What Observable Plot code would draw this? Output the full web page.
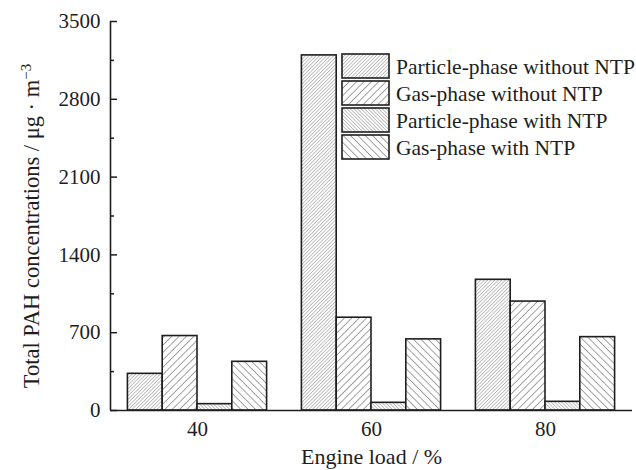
<!DOCTYPE html>
<html>
<head>
<meta charset="utf-8">
<script src="https://cdn.jsdelivr.net/npm/d3@7"></script>
<script src="https://cdn.jsdelivr.net/npm/@observablehq/plot@0.6"></script>
<style>
  body { margin: 0; background: #fff; }
  #chart { position: relative; width: 636px; height: 470px; font-family: "Liberation Serif", "Times New Roman", serif; }
  #legend { position: absolute; left: 341px; top: 53px; }
</style>
</head>
<body>
<div id="chart"></div>
<script>
// Engine loads (%) and PAH series
const loads = [40, 60, 80];
const series = [
  "Particle-phase without NTP",
  "Gas-phase without NTP",
  "Particle-phase with NTP",
  "Gas-phase with NTP"
];
// Total PAH concentrations, µg·m⁻³, one value per engine load
const particleWithoutNTP = [330, 3195, 1176];
const gasWithoutNTP = [670, 835, 980];
const particleWithNTP = [57, 69, 78];
const gasWithNTP = [438, 640, 660];
const yTicks = [0, 700, 1400, 2100, 2800, 3500];
const yMinorTicks = [350, 1050, 1750, 2450, 3150];

const valuesBySeries = [particleWithoutNTP, gasWithoutNTP, particleWithNTP, gasWithNTP];

// Bars are placed side by side around each load value (4 bars, each 4 load units wide)
const barWidth = 4;
const rows = [];
loads.forEach((load, j) => {
  series.forEach((s, i) => {
    const x1 = load + (i - series.length / 2) * barWidth;
    rows.push({load, series: s, value: valuesBySeries[i][j], x1, x2: x1 + barWidth});
  });
});

// Hatch fill patterns: dense "/", wide "/", dense "\", wide "\"
const hatch = [
  {id: "hatch0", gap: 2.5, angle: 45, w: 0.8, color: "#666"},
  {id: "hatch1", gap: 5.2, angle: 45, w: 0.9, color: "#333"},
  {id: "hatch2", gap: 2.5, angle: -45, w: 0.8, color: "#666"},
  {id: "hatch3", gap: 5.2, angle: -45, w: 0.9, color: "#333"}
];

const ink = "#1e1e1e";
const serif = "'Liberation Serif', 'Times New Roman', serif";

const chart = Plot.plot({
  width: 636,
  height: 470,
  marginLeft: 110,
  marginRight: 4,
  marginTop: 21,
  marginBottom: 60,
  style: {fontFamily: serif, fontSize: "21px", color: ink, background: "#fff"},
  x: {domain: [30, 90]},
  y: {domain: [0, 3500]},
  color: {type: "ordinal", domain: series, range: hatch.map(h => `url(#${h.id})`)},
  marks: [
    Plot.rectY(rows, {x1: "x1", x2: "x2", y: "value", fill: "series", stroke: ink, strokeWidth: 1.6}),
    Plot.axisY({ticks: yTicks, tickFormat: d => String(d), tickSize: 0, tickPadding: 10, fontSize: 21,
      label: "Total PAH concentrations / μg · m-3", labelAnchor: "center", labelOffset: 88, labelArrow: "none"}),
    Plot.axisY({ticks: yTicks, tickSize: -7, text: null, label: null, strokeWidth: 1.5}),
    Plot.axisY({ticks: yMinorTicks, tickSize: -4, text: null, label: null, strokeWidth: 1.5}),
    Plot.axisX({ticks: loads, tickFormat: d => String(d), tickSize: 0, tickPadding: 11, fontSize: 21,
      label: "Engine load / %", labelAnchor: "center", labelOffset: 53, labelArrow: "none"}),
    Plot.ruleX([30], {stroke: ink, strokeWidth: 1.6}),
    Plot.ruleY([0], {stroke: ink, strokeWidth: 1.6})
  ]
});

// Pattern definitions used by the bar fills
const defs = d3.select(chart).insert("defs", ":first-child");
hatch.forEach(h => {
  const p = defs.append("pattern")
    .attr("id", h.id)
    .attr("patternUnits", "userSpaceOnUse")
    .attr("width", h.gap).attr("height", h.gap)
    .attr("patternTransform", `rotate(${h.angle})`);
  p.append("rect").attr("width", h.gap).attr("height", h.gap).attr("fill", "#fff");
  p.append("line").attr("x1", 0).attr("y1", 0).attr("x2", 0).attr("y2", h.gap)
    .attr("stroke", h.color).attr("stroke-width", h.w);
});

// Axis titles: larger type, with a real superscript for the unit exponent
d3.select(chart).selectAll("text").each(function () {
  const t = d3.select(this);
  const s = t.text();
  if (s === "Engine load / %") t.style("font-size", "22px");
  if (s.startsWith("Total PAH")) {
    t.style("font-size", "22.5px").text(null);
    t.append("tspan").text("Total PAH concentrations / μg · m");
    t.append("tspan").attr("dy", "-0.55em").style("font-size", "15px").text("−3");
    // nudge the rotated title slightly down
    const tr = t.attr("transform") || "";
    t.attr("transform", `translate(1,10) ${tr}`);
  }
});

document.getElementById("chart").appendChild(chart);

// Legend inside the plot area, top right
const rowStep = 27, boxW = 47, boxH = 24;
const legend = d3.select("#chart").append("svg")
  .attr("id", "legend")
  .attr("width", 300).attr("height", rowStep * series.length + 4);
series.forEach((s, i) => {
  const g = legend.append("g").attr("transform", `translate(1,${1 + i * rowStep})`);
  g.append("rect").attr("width", boxW).attr("height", boxH)
    .attr("fill", `url(#${hatch[i].id})`).attr("stroke", ink).attr("stroke-width", 1.6);
  g.append("text").attr("x", boxW + 7).attr("y", boxH / 2).attr("dy", "0.35em")
    .attr("fill", ink).style("font-size", "21.5px").style("font-family", serif)
    .text(s);
});
</script>
</body>
</html>
